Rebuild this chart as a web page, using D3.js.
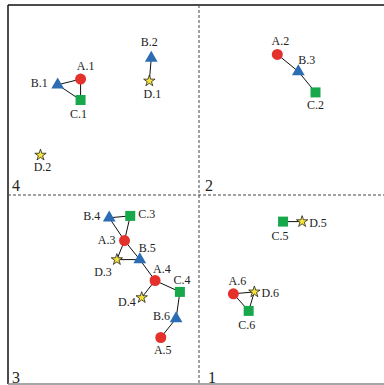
<!DOCTYPE html>
<html>
<head>
<meta charset="utf-8">
<script src="https://cdnjs.cloudflare.com/ajax/libs/d3/7.8.5/d3.min.js"></script>
<style>
  body { margin: 0; background: #fff; }
  text { font-family: "Liberation Serif", "DejaVu Serif", serif; fill: #222; }
</style>
</head>
<body>
<div id="my_dataviz"></div>
<script>
// point names, kinds and coordinates
var names = ["A.1","B.1","C.1","B.2","D.1","D.2","A.2","B.3","C.2",
             "B.4","C.3","A.3","B.5","D.3","A.4","C.4","D.4","B.6","A.5",
             "C.5","D.5","A.6","D.6","C.6"];
var xs = [-0.62,-0.74,-0.62,-0.25,-0.26,-0.83, 0.41, 0.52, 0.61,
          -0.47,-0.36,-0.39,-0.31,-0.43,-0.23,-0.10,-0.30,-0.12,-0.20,
           0.44, 0.54, 0.18, 0.29, 0.26];
var ys = [ 0.61, 0.58, 0.50, 0.72, 0.60, 0.21, 0.74, 0.65, 0.54,
          -0.12,-0.11,-0.24,-0.34,-0.34,-0.45,-0.51,-0.54,-0.65,-0.75,
          -0.14,-0.14,-0.52,-0.51,-0.61];
// links between points
var links = [["A.1","B.1"],["B.1","C.1"],["A.1","C.1"],["B.2","D.1"],
             ["A.2","B.3"],["B.3","C.2"],
             ["B.4","C.3"],["B.4","A.3"],["C.3","A.3"],["A.3","D.3"],["A.3","B.5"],["D.3","B.5"],
             ["B.5","A.4"],["A.4","D.4"],["A.4","C.4"],["C.4","B.6"],["B.6","A.5"],
             ["C.5","D.5"],["A.6","D.6"],["A.6","C.6"],["C.6","D.6"]];
var quadrantLabels = ["1","2","3","4"];

// label placement (style only)
var labelPos = {
  "A.1":[5,-9,"middle"], "B.1":[-10,2,"end"], "C.1":[-2,18,"middle"],
  "B.2":[-2,-12,"middle"], "D.1":[3,17,"middle"], "D.2":[2,16,"middle"],
  "A.2":[3,-9,"middle"], "B.3":[0,-8,"start"], "C.2":[0,17,"middle"],
  "B.4":[-9,2,"end"], "C.3":[8,2,"start"], "A.3":[-9,3,"end"],
  "B.5":[-1,-8,"start"], "D.3":[-5,16,"end"], "A.4":[-2,-8,"start"],
  "C.4":[2,-8,"middle"], "D.4":[-6,8,"end"], "B.6":[-6,1,"end"],
  "A.5":[2,16,"middle"], "C.5":[-3,18,"middle"], "D.5":[7,5,"start"],
  "A.6":[4,-9,"middle"], "D.6":[7,5,"start"], "C.6":[-2,18,"middle"]
};

var colors = { A: "#e5312b", B: "#2b6cb3", C: "#17a84b", D: "#f6e33a" };

var W = 384, H = 385;
var svg = d3.select("#my_dataviz").append("svg")
    .attr("width", W).attr("height", H);

var x = d3.scaleLinear().domain([-1, 1]).range([8, 390]);
var y = d3.scaleLinear().domain([-1, 1]).range([385, 5]);

// frame
svg.append("line").attr("x1", x(-1)).attr("x2", W).attr("y1", y(1)).attr("y2", y(1))
    .attr("stroke", "#111").attr("stroke-width", 1.5);
svg.append("line").attr("x1", x(-1)).attr("x2", x(-1)).attr("y1", y(1)).attr("y2", 384)
    .attr("stroke", "#111").attr("stroke-width", 1.5);
svg.append("line").attr("x1", x(-1)).attr("x2", W).attr("y1", 384).attr("y2", 384)
    .attr("stroke", "#888").attr("stroke-width", 1.5);

// dashed centre lines
svg.append("line").attr("x1", x(0)).attr("x2", x(0)).attr("y1", y(1)).attr("y2", 384)
    .attr("stroke", "#444").attr("stroke-width", 1).attr("stroke-dasharray", "3,2");
svg.append("line").attr("x1", x(-1)).attr("x2", W).attr("y1", y(0)).attr("y2", y(0))
    .attr("stroke", "#444").attr("stroke-width", 1).attr("stroke-dasharray", "3,2");

// quadrant numbers
var qPos = { "1": [x(0) + 9, 383], "2": [x(0) + 6, y(0) - 4], "3": [x(-1) + 4, 383], "4": [x(-1) + 4, y(0) - 4] };
svg.selectAll(".qnum").data(quadrantLabels).enter().append("text")
    .attr("x", function (d) { return qPos[d][0]; })
    .attr("y", function (d) { return qPos[d][1]; })
    .style("font-size", "16px")
    .text(function (d) { return d; });

var pts = {};
names.forEach(function (n, i) { pts[n] = { name: n, kind: n[0], x: xs[i], y: ys[i] }; });
var data = names.map(function (n) { return pts[n]; });

// links
svg.selectAll(".link").data(links).enter().append("line")
    .attr("x1", function (d) { return x(pts[d[0]].x); })
    .attr("y1", function (d) { return y(pts[d[0]].y); })
    .attr("x2", function (d) { return x(pts[d[1]].x); })
    .attr("y2", function (d) { return y(pts[d[1]].y); })
    .attr("stroke", "#111").attr("stroke-width", 1);

// markers
var shapes = { A: d3.symbolCircle, B: d3.symbolTriangle, C: d3.symbolSquare, D: d3.symbolStar };
var sizes = { A: 95, B: 70, C: 100, D: 40 };
svg.selectAll(".pt").data(data).enter().append("path")
    .attr("transform", function (d) { return "translate(" + x(d.x) + "," + y(d.y) + ")"; })
    .attr("d", function (d) { return d3.symbol().type(shapes[d.kind]).size(sizes[d.kind])(); })
    .attr("fill", function (d) { return colors[d.kind]; })
    .attr("stroke", function (d) { return d.kind === "D" ? "#222" : "none"; })
    .attr("stroke-width", 0.8);

// labels
svg.selectAll(".lbl").data(data).enter().append("text")
    .attr("x", function (d) { return x(d.x) + labelPos[d.name][0]; })
    .attr("y", function (d) { return y(d.y) + labelPos[d.name][1]; })
    .attr("text-anchor", function (d) { return labelPos[d.name][2]; })
    .style("font-size", "12px")
    .text(function (d) { return d.name; });
</script>
</body>
</html>
